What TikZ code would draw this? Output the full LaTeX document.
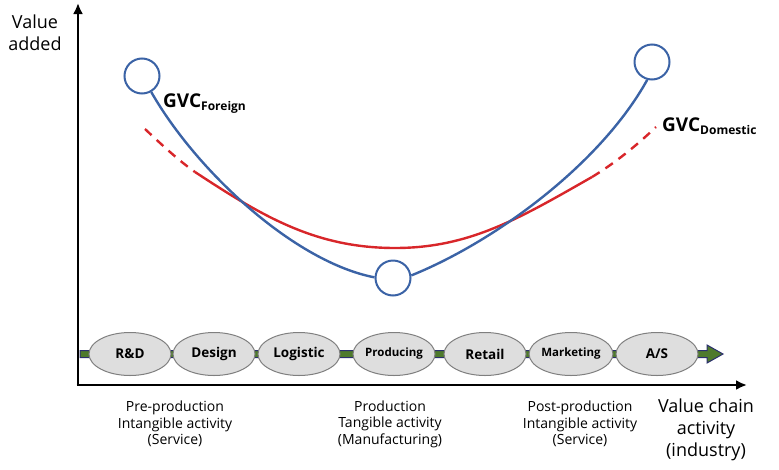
\documentclass[tikz,border=0pt]{standalone}
\usepackage{fontspec}
\setmainfont{Open Sans}
\usetikzlibrary{shapes.geometric,arrows.meta}
\definecolor{gvcblue}{HTML}{3B63A6}
\definecolor{gvcred}{HTML}{D8262A}
\definecolor{stagefill}{HTML}{DEDEDE}
\definecolor{stageline}{HTML}{7F7F7F}
\definecolor{bandgreen}{HTML}{4E7A2C}
\definecolor{bandedge}{HTML}{2B2F6E}
\tikzset{
  axis/.style={line width=2.6pt,-{Latex[length=11pt,width=10pt]}},
  stage/.style={ellipse,draw=stageline,fill=stagefill,line width=1pt,
    minimum width=82pt,minimum height=43pt,inner sep=0pt,font=\bfseries\fontsize{13.5}{13.5}\selectfont},
  smallstage/.style={stage,font=\bfseries\fontsize{11.5}{11.5}\selectfont},
  marker/.style={circle,draw=gvcblue,fill=white,line width=2pt,minimum size=35pt,inner sep=0pt},
  bluecurve/.style={draw=gvcblue,line width=2.4pt},
  redcurve/.style={draw=gvcred,line width=2.4pt},
  reddash/.style={redcurve,dashed,dash pattern=on 9pt off 7pt},
  gvclabel/.style={anchor=base west,inner sep=0pt,font=\bfseries\fontsize{19}{19}\selectfont},
  axislabel/.style={align=center,font=\fontsize{18}{22}\selectfont},
  phase/.style={align=center,font=\fontsize{14}{16.5}\selectfont}
}
\begin{document}
\begin{tikzpicture}[x=1pt,y=-1pt]
\useasboundingbox (0,0) rectangle (779,469);

% axes
\coordinate (origin) at (78,385);
\coordinate (ytip) at (78,3);
\coordinate (xtip) at (747,385);
\draw[axis] (origin) -- (ytip);
\draw[axis] ([xshift=-1.3pt]origin) -- (xtip);

\node[axislabel] (ylab) at (35,33) {Value\\added};
\node[axislabel] (xlab) at (706,430) {Value chain\\activity\\(industry)};

% value chain band with arrow head
\filldraw[fill=bandgreen,draw=bandedge,line width=1pt]
  (80,350.5) -- (707,350.5) -- (707,345) -- (723,354) -- (707,363)
  -- (707,357.5) -- (80,357.5) -- cycle;

% value chain stages
\node[stage] (rd) at (130,354) {R\&D};
\node[stage] (design) at (214,354) {Design};
\node[stage] (logistic) at (299,354) {Logistic};
\node[smallstage] (producing) at (394,354) {Producing};
\node[stage] (retail) at (485,354) {Retail};
\node[smallstage] (marketing) at (571,354) {Marketing};
\node[stage] (as) at (657,354) {A/S};

% phase captions
\node[phase] (pre) at (175,424) {Pre-production\\Intangible activity\\(Service)};
\node[phase] (prod) at (390,424) {Production\\Tangible activity\\(Manufacturing)};
\node[phase] (post) at (580,424) {Post-production\\Intangible activity\\(Service)};

% domestic GVC curve (red)
\coordinate (dl0) at (145,129);
\coordinate (dl1) at (195,172);
\coordinate (dmin) at (395,248);
\coordinate (dr1) at (592,177);
\coordinate (dr0) at (656,127);
\draw[reddash] (dl0) .. controls (162,145) and (178,160) .. (dl1);
\draw[redcurve] (dl1) .. controls (262,216) and (315,248) .. (dmin)
  .. controls (470,248) and (520,218) .. (dr1);
\draw[reddash] (dr1) .. controls (615,163) and (636,146) .. (dr0);

% foreign GVC curve (blue) through the markers
\node[marker] (mleft) at (142,76) {};
\node[marker] (mbottom) at (393,278) {};
\node[marker] (mright) at (652,62) {};
\draw[bluecurve] (mleft.-60) .. controls (197,172) and (295,262) .. (mbottom.178);
\draw[bluecurve] (mbottom.8) .. controls (494,242) and (600,165) .. (mright.-105);

% curve labels
\node[gvclabel] (lforeign) at (163,107) {GVC\raisebox{-3pt}{\fontsize{12}{12}\selectfont Foreign}};
\node[gvclabel] (ldomestic) at (662,131) {GVC\raisebox{-3pt}{\fontsize{12}{12}\selectfont Domestic}};
\end{tikzpicture}
\end{document}
